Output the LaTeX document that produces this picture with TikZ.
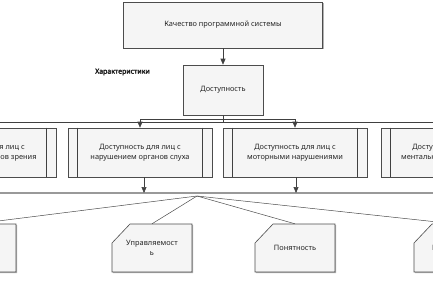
\documentclass[tikz,border=0pt]{standalone}
\usepackage{fontspec}
\setmainfont{Noto Sans}
\newfontfamily\labfont{Noto Sans}[FakeBold=2.5]
\usetikzlibrary{calc,arrows.meta,shadows}
\newcommand\mycard[3]{%
  \coordinate (#1c) at #2;
  \fill[black!30] ($(#1c)+(-39,-4)$) -- ($(#1c)+(-21,-23)$) -- ($(#1c)+(41,-23)$) -- ($(#1c)+(41,25)$) -- ($(#1c)+(-39,25)$) -- cycle;
  \filldraw[cardst] ($(#1c)+(-40,-5)$) -- ($(#1c)+(-22,-24)$) -- ($(#1c)+(40,-24)$) -- ($(#1c)+(40,24)$) -- ($(#1c)+(-40,24)$) -- cycle;
  \node[cardtext] (#1) at (#1c) {#3};
}
\begin{document}
\begin{tikzpicture}[x=1pt,y=-1pt,
  font=\fontsize{7.4}{10.5}\selectfont,
  shad/.style={drop shadow={shadow xshift=1.2pt,shadow yshift=-1.2pt,fill=black!30,opacity=1}},
  box/.style={draw=black!70, fill=black!4, line width=0.6pt, align=center, inner sep=0pt, text=black!85, shad},
  procbox/.style={box, minimum width=144pt, minimum height=49pt},
  cardst/.style={draw=black!70, fill=black!4, line width=0.6pt},
  cardtext/.style={align=center, inner sep=0pt, minimum width=80pt, minimum height=48pt, text=black!85},
  ln/.style={draw=black!75, line width=0.6pt},
  arr/.style={ln, -{Triangle[width=5pt,length=6pt]}},
  fanln/.style={draw=black!70, line width=0.5pt},
  bar/.style={draw=black!40, line width=1.4pt},
]
\useasboundingbox (0,0) rectangle (433,289);
\clip (0,0) rectangle (433,289);

\node[box, minimum width=199pt, minimum height=46pt] (top) at (223,25) {Качество программной системы};
\node[font=\fontsize{7}{9}\labfont, anchor=west, inner sep=0pt, text=black!90] (lab) at (95,72) {Характеристики};
\node[box, minimum width=80pt, minimum height=50pt] (dost) at (223,90) {Доступность};

\node[procbox] (b1) at (-16,152.5) {Доступность для лиц с\\нарушением органов зрения};
\node[procbox] (b2) at (140,152.5) {Доступность для лиц с\\нарушением органов слуха};
\node[procbox] (b3) at (295,152.5) {Доступность для лиц с\\моторными нарушениями};
\node[procbox] (b4) at (453,152.5) {Доступность для лиц с\\ментальными нарушениями};
\foreach \b in {b1,b2,b3,b4}{
  \draw[ln] ($(\b.north west)+(10,0)$) -- ($(\b.south west)+(10,0)$);
  \draw[ln] ($(\b.north east)+(-10,0)$) -- ($(\b.south east)+(-10,0)$);
}

\draw[arr] (top.south) -- (dost.north);
\coordinate (j1) at (223,119);
\coordinate (j2) at (223,122);
\draw[ln] (dost.south) -- (j2);
\draw[arr] (j1) -| (b2.north);
\draw[arr] (j1) -| (b3.north);
\draw[arr] (j2) -| (b1.north);
\draw[arr] (j2) -| (b4.north);

\coordinate (barL) at (-10,193);
\coordinate (barR) at (443,193);
\draw[bar] (barL) -- (barR);
\draw[arr] ([xshift=4pt]b2.south) -- ([xshift=4pt]b2.south |- barL);
\draw[arr] ([xshift=1pt]b3.south) -- ([xshift=1pt]b3.south |- barL);

\mycard{c1}{(-24,248)}{Восприятие}
\mycard{c2}{(152,248)}{Управляемост\\ь}
\mycard{c3}{(295,248)}{Понятность}
\mycard{c4}{(454,248)}{Надежность}

\coordinate (fan) at (197,196);
\foreach \c in {c1,c2,c3,c4}{
  \draw[fanln] (fan) -- (\c.north);
}
\end{tikzpicture}
\end{document}
